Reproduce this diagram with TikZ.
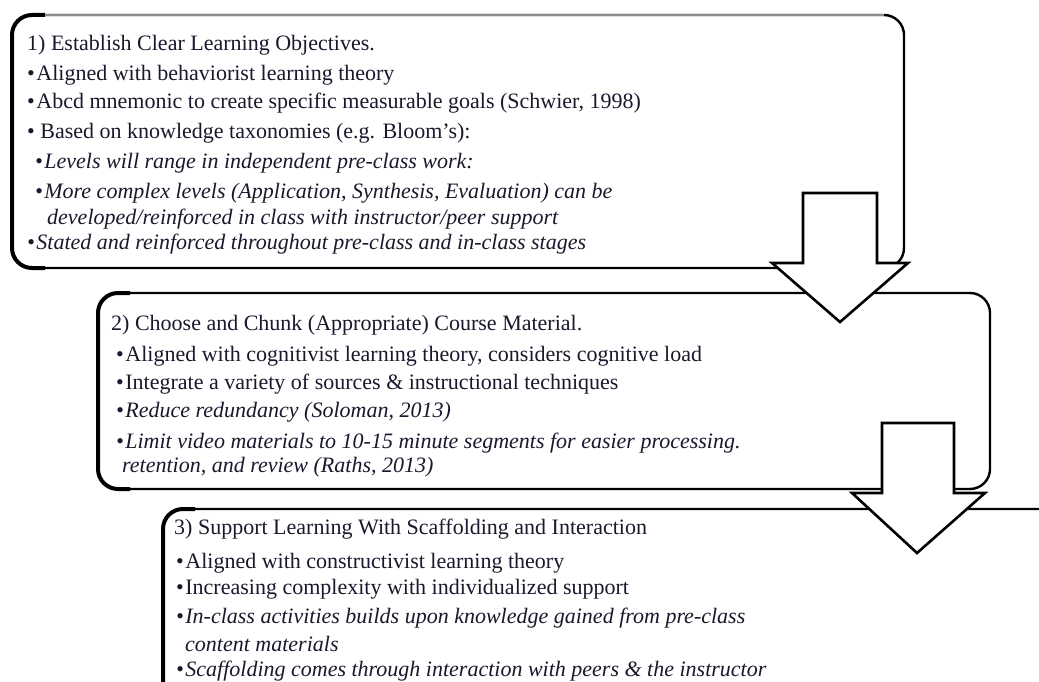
\documentclass[tikz,border=0pt]{standalone}
\usepackage{fontspec}
\setmainfont{Liberation Serif}
\definecolor{ink}{RGB}{25,25,45}
\newcommand{\bul}{•\kern1.5pt}
\begin{document}
\begin{tikzpicture}[x=1pt,y=-1pt,
  txt/.style={anchor=base west, inner sep=0pt, text=ink, font=\fontsize{22}{26}\selectfont},
  itx/.style={anchor=base west, inner sep=0pt, text=ink, font=\fontsize{22}{26}\selectfont\itshape},
  frame/.style={draw=black, line width=2.4pt, rounded corners=20pt, fill=white},
  leftedge/.style={draw=black, line width=4pt, rounded corners=20pt},
  blockarrow/.style={draw=black, line width=2.6pt, fill=white, line join=miter}]
\useasboundingbox (0,0) rectangle (1039,682);
\begin{scope}
\clip (0,0) rectangle (1039,682);
% box 1
\draw[frame] (12,15) rectangle (904,268);
\draw[leftedge] (45,15) -- (12,15) -- (12,268) -- (45,268);
\draw[line width=2.4pt, black!45] (45,15) -- (884,15);
% box 2
\draw[frame] (98,293) rectangle (990,489);
\draw[leftedge] (130,293) -- (98,293) -- (98,489) -- (130,489);
% box 3
\draw[frame] (163,509) rectangle (1080,702);
\draw[leftedge] (195,509) -- (163,509) -- (163,702);
% arrow 1
\draw[blockarrow] (803,193) -- (877,193) -- (877,263) -- (908,263) -- (840,322) -- (772,263) -- (803,263) -- cycle;
% arrow 2
\draw[blockarrow] (882,423) -- (954,423) -- (954,493) -- (985,493) -- (917,553) -- (852,493) -- (882,493) -- cycle;
\end{scope}
% box 1 text
\node[txt] (t1) at (27,51) {1) Establish Clear Learning Objectives.};
\node[txt] (a1) at (27,81) {\bul Aligned with behaviorist learning theory};
\node[txt] (a2) at (27,109) {\bul Abcd mnemonic to create specific measurable goals (Schwier, 1998)};
\node[txt] (a3) at (27,139) {• Based on knowledge taxonomies (e.g. Bloom’s):};
\node[itx] (a4) at (35,168) {\bul Levels will range in independent pre-class work:};
\node[itx] (a5) at (35,198) {\bul More complex levels (Application, Synthesis, Evaluation) can be};
\node[itx] (a6) at (47,224) {developed/reinforced in class with instructor/peer support};
\node[itx] (a7) at (27,249) {\bul Stated and reinforced throughout pre-class and in-class stages};
% box 2 text
\node[txt] (t2) at (111,330) {2) Choose and Chunk (Appropriate) Course Material.};
\node[txt] (b1) at (116,361) {\bul Aligned with cognitivist learning theory, considers cognitive load};
\node[txt] (b2) at (116,389) {\bul Integrate a variety of sources \& instructional techniques};
\node[itx] (b3) at (116,417) {\bul Reduce redundancy (Soloman, 2013)};
\node[itx] (b4) at (116,448) {\bul Limit video materials to 10-15 minute segments for easier processing.};
\node[itx] (b5) at (122,472) {retention, and review (Raths, 2013)};
% box 3 text
\node[txt] (t3) at (174,534) {3) Support Learning With Scaffolding and Interaction};
\node[txt] (c1) at (176,568) {\bul Aligned with constructivist learning theory};
\node[txt] (c2) at (176,594) {\bul Increasing complexity with individualized support};
\node[itx] (c3) at (176,623) {\bul In-class activities builds upon knowledge gained from pre-class};
\node[itx] (c4) at (185,651) {content materials};
\node[itx] (c5) at (176,676) {\bul Scaffolding comes through interaction with peers \& the instructor};
\end{tikzpicture}
\end{document}
